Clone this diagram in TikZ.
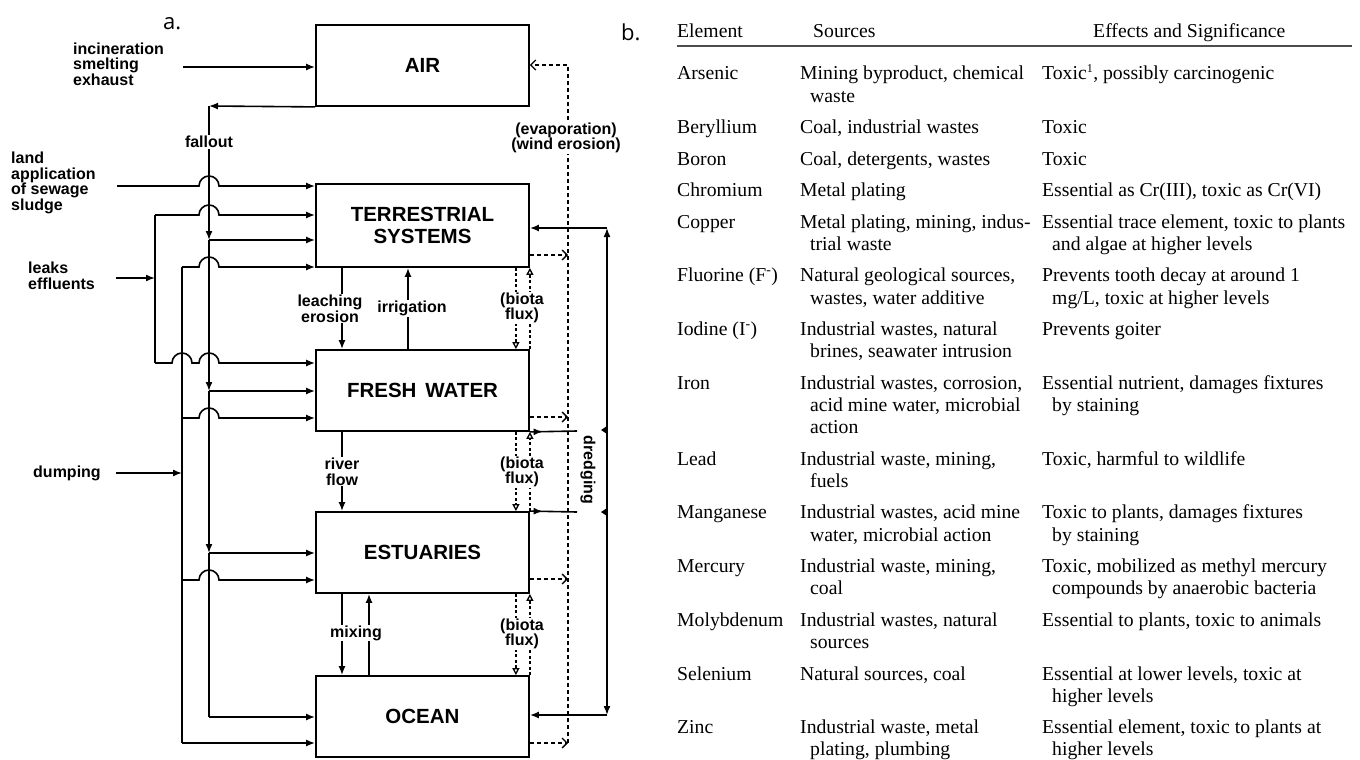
\documentclass[tikz,border=0pt]{standalone}
\usepackage{fontspec}
\usepackage{tikz}
\usetikzlibrary{arrows.meta,decorations.markings}
\setmainfont{Liberation Serif}
\newfontfamily\diagfont{Liberation Sans}
\newfontfamily\tagfont{Open Sans}
\newcommand{\labfont}{\diagfont\bfseries\fontsize{16}{15.7}\selectfont}
\newcommand{\boxfont}{\diagfont\bfseries\fontsize{20.5}{22}\selectfont}
\newcommand{\tabfont}{\fontsize{19.7}{22.2}\selectfont}

\begin{document}
\begin{tikzpicture}[x=1pt,y=-1pt,
  box/.style={draw, line width=1.8pt, minimum width=213pt, minimum height=81pt, inner sep=0pt, align=center, font=\boxfont},
  lab/.style={font=\labfont, align=center, inner sep=1pt},
  ln/.style={line width=1.6pt},
  arr/.style={line width=1.6pt, -{Latex[length=9pt,width=7pt]}},
  darr/.style={line width=1.3pt, dash pattern=on 4pt off 3pt, -{Straight Barb[length=5pt,width=10pt]}},
  barr/.style={line width=1.3pt, dash pattern=on 3pt off 2.5pt, -{Triangle[open,length=7pt,width=7pt]}},
  hop/.style={insert path={arc[start angle=180,end angle=0,radius=10pt]}},
  midarr/.style={postaction=decorate, decoration={markings, mark=at position 0.27 with {\arrow{Latex[length=9pt,width=7pt]}}}},
  cell/.style={anchor=base west, inner sep=0pt, font=\tabfont}]
\useasboundingbox (0,0) rectangle (1360,760);

% panel a: compartments
\node[font=\tagfont\fontsize{22}{24}\selectfont, anchor=base west, inner sep=0pt] (taga) at (163,30) {a.};
\node[box] (air) at (422.5,65.5) {AIR};
\node[box, minimum height=83pt] (terr) at (422.5,225.5) {TERRESTRIAL\\SYSTEMS};
\node[box] (fresh) at (422.5,390.5) {FRESH\hspace{9pt}WATER};
\node[box] (est) at (422.5,552.5) {ESTUARIES};
\node[box] (ocean) at (422.5,716.5) {OCEAN};

% inputs
\node[lab, anchor=west, align=left] (tinc) at (72,64) {incineration\\smelting\\exhaust};
\node[lab, anchor=west, align=left] (tland) at (10,183) {land\\application\\of sewage\\sludge};
\node[lab, anchor=west, align=left] (tleak) at (27,276) {leaks\\effluents};
\node[lab, anchor=west] (tdump) at (32,473) {dumping};

\coordinate (inc) at (183,67);
\coordinate (land) at (117,186);
\coordinate (leak) at (116,278);
\coordinate (dump) at (116,473);
\coordinate (f0) at (209,106);
\coordinate (f1) at (209,240);
\coordinate (f2) at (209,391);
\coordinate (f3) at (209,553);
\coordinate (f4) at (209,717);
\coordinate (k0) at (155,278);
\coordinate (k1) at (155,215);
\coordinate (k2) at (155,363);
\coordinate (d0) at (182,473);
\coordinate (d1) at (182,267);
\coordinate (d2) at (182,418);
\coordinate (d3) at (182,580);
\coordinate (d4) at (182,743);

\draw[arr] (inc) -- (inc -| air.west);

% fallout
\draw[arr] (air.south west) -- (f0);
\draw[arr] (f0) -- node[lab, fill=white, pos=0.27] {fallout} (f1);
\draw[arr] (f1) -- (f2);
\draw[arr] (f2) -- (f3);
\draw[ln] (f3) -- (f4);
\draw[arr] (f1) -- (f1 -| terr.west);
\draw[arr] (f2) -- (f2 -| fresh.west);
\draw[arr] (f3) -- (f3 -| est.west);
\draw[arr] (f4) -- (f4 -| ocean.west);

% sludge, leaks, dumping
\draw[arr] (land) -- (199,186) [hop] -- (land -| terr.west);
\draw[arr] (leak) -- (k0);
\draw[ln] (k1) -- (k2);
\draw[arr] (k1) -- (199,215) [hop] -- (k1 -| terr.west);
\draw[arr] (k2) -- (172,363) [hop] -- (199,363) [hop] -- (k2 -| fresh.west);
\draw[arr] (dump) -- (d0);
\draw[ln] (d1) -- (d4);
\draw[arr] (d1) -- (199,267) [hop] -- (d1 -| terr.west);
\draw[arr] (d2) -- (199,418) [hop] -- (d2 -| fresh.west);
\draw[arr] (d3) -- (199,580) [hop] -- (d3 -| est.west);
\draw[arr] (d4) -- (d4 -| ocean.west);

% exchanges between compartments
\draw[arr] ([xshift=-80.5pt]terr.south) -- node[lab, fill=white, xshift=-12pt] {leaching\\erosion} ([xshift=-80.5pt]fresh.north);
\draw[arr] ([xshift=-14.5pt]fresh.north) -- node[lab, fill=white, xshift=4pt] {irrigation} ([xshift=-14.5pt]terr.south);
\draw[arr] ([xshift=-80.5pt]fresh.south) -- node[lab, fill=white] {river\\flow} ([xshift=-80.5pt]est.north);
\draw[arr] ([xshift=-80.5pt]est.south) -- ([xshift=-80.5pt]ocean.north);
\draw[arr] ([xshift=-53.5pt]ocean.north) -- ([xshift=-53.5pt]est.south);
\node[lab, fill=white] (tmix) at (356,633) {mixing};

% biota flux
\draw[barr] ([xshift=-14pt]terr.south east) -- ([xshift=-14pt]fresh.north east);
\draw[barr] (fresh.north east) -- (terr.south east);
\draw[barr] ([xshift=-14pt]fresh.south east) -- ([xshift=-14pt]est.north east);
\draw[barr] (est.north east) -- (fresh.south east);
\draw[barr] ([xshift=-14pt]est.south east) -- ([xshift=-14pt]ocean.north east);
\draw[barr] (ocean.north east) -- (est.south east);
\node[lab, fill=white] (bio1) at (522,308) {(biota\\flux)};
\node[lab, fill=white] (bio2) at (522,472) {(biota\\flux)};
\node[lab, fill=white] (bio3) at (522,634) {(biota\\flux)};

% evaporation, wind erosion
\coordinate (ev0) at (568,65);
\coordinate (ev1) at (568,743);
\coordinate (c1) at (568,255);
\coordinate (c2) at (568,417);
\coordinate (c3) at (568,579);
\draw[darr] (ev1) -- (ev0) -- (ev0 -| air.east);
\draw[darr] (c1 -| terr.east) -- (c1);
\draw[darr] (c2 -| fresh.east) -- (c2);
\draw[darr] (c3 -| est.east) -- (c3);
\draw[darr] (ev1 -| ocean.east) -- (ev1);
\node[lab, fill=white] (tevap) at (566,138) {(evaporation)\\(wind erosion)};

% dredging
\coordinate (s1) at (577,431);
\coordinate (s2) at (577,512);
\coordinate (dr0) at (607,228);
\coordinate (dr1) at (607,715);
\coordinate (dr2) at (607,470);
\draw[ln, midarr] (fresh.south east) -- (s1);
\draw[ln, midarr] (est.north east) -- (s2);
\draw[arr] (dr2) -- (dr0);
\draw[arr] (dr2) -- (dr1);
\draw[arr] (dr0) -- (dr0 -| terr.east);
\draw[arr] (dr1) -- (dr1 -| ocean.east);
\fill (607,426) -- (601,430) -- (607,434) -- cycle;
\fill (607,508) -- (601,512) -- (607,516) -- cycle;
\node[lab, rotate=-90] (tdr) at (588,470) {dredging};

% panel b: table
\node[font=\tagfont\fontsize{22}{24}\selectfont, anchor=base west, inner sep=0pt] (tagb) at (621,41) {b.};
\node[cell] (h1) at (677,38) {Element};
\node[cell] (h2) at (813,38) {Sources};
\node[cell] (h3) at (1093,38) {Effects and Significance};
\draw[line width=2pt, black!70] (677,46) -- (1352,46);

\foreach \yy/\txt [count=\i] in {80/Arsenic, 133.7/Beryllium, 165.2/Boron, 196.7/Chromium,
  228.2/Copper, 281.9/{Fluorine (F\textsuperscript{-})}, 335.6/{Iodine (I\textsuperscript{-})},
  389.3/Iron, 465.2/Lead, 518.9/Manganese, 572.6/Mercury, 626.3/Molybdenum,
  680/Selenium, 733.7/Zinc}
  \node[cell] (el\i) at (677,\yy) {\txt};

\foreach \yy/\xx/\txt [count=\i] in {80/800/{Mining byproduct, chemical}, 102.2/810/waste,
  133.7/800/{Coal, industrial wastes}, 165.2/800/{Coal, detergents, wastes},
  196.7/800/{Metal plating}, 228.2/800/{Metal plating, mining, indus-}, 250.4/810/{trial waste},
  281.9/800/{Natural geological sources,}, 304.1/810/{wastes, water additive},
  335.6/800/{Industrial wastes, natural}, 357.8/810/{brines, seawater intrusion},
  389.3/800/{Industrial wastes, corrosion,}, 411.5/810/{acid mine water, microbial}, 433.7/810/action,
  465.2/800/{Industrial waste, mining,}, 487.4/810/fuels,
  518.9/800/{Industrial wastes, acid mine}, 541.1/810/{water, microbial action},
  572.6/800/{Industrial waste, mining,}, 594.8/810/coal,
  626.3/800/{Industrial wastes, natural}, 648.5/810/sources,
  680/800/{Natural sources, coal},
  733.7/800/{Industrial waste, metal}, 755.9/810/{plating, plumbing}}
  \node[cell] (src\i) at (\xx,\yy) {\txt};

\foreach \yy/\xx/\txt [count=\i] in {80/1042/{Toxic\textsuperscript{\fontsize{12}{12}\selectfont 1}, possibly carcinogenic},
  133.7/1042/Toxic, 165.2/1042/Toxic, 196.7/1042/{Essential as Cr(III), toxic as Cr(VI)},
  228.2/1042/{Essential trace element, toxic to plants}, 250.4/1052/{and algae at higher levels},
  281.9/1042/{Prevents tooth decay at around 1}, 304.1/1052/{mg/L, toxic at higher levels},
  335.6/1042/{Prevents goiter},
  389.3/1042/{Essential nutrient, damages fixtures}, 411.5/1052/{by staining},
  465.2/1042/{Toxic, harmful to wildlife},
  518.9/1042/{Toxic to plants, damages fixtures}, 541.1/1052/{by staining},
  572.6/1042/{Toxic, mobilized as methyl mercury}, 594.8/1052/{compounds by anaerobic bacteria},
  626.3/1042/{Essential to plants, toxic to animals},
  680/1042/{Essential at lower levels, toxic at}, 702.2/1052/{higher levels},
  733.7/1042/{Essential element, toxic to plants at}, 755.9/1052/{higher levels}}
  \node[cell] (eff\i) at (\xx,\yy) {\txt};
\end{tikzpicture}
\end{document}
